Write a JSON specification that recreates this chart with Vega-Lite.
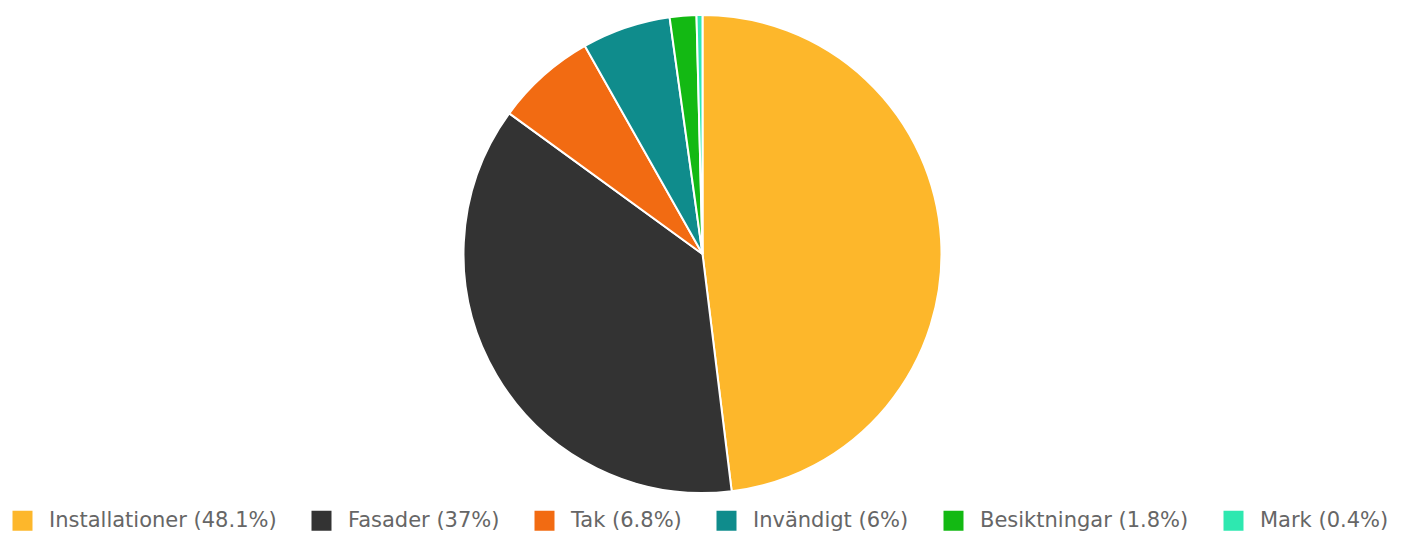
{
  "$schema": "https://vega.github.io/schema/vega-lite/v6.json",
  "width": 1411,
  "height": 534,
  "autosize": {"type": "fit", "contains": "padding"},
  "padding": {"top": 4, "bottom": 30, "left": 0, "right": 6},
  "background": "white",
  "view": {"stroke": null},
  "data": {
    "values": [
      {"kategori": "Installationer", "andel": 48.1, "etikett": "Installationer (48.1%)", "ordning": 1},
      {"kategori": "Fasader", "andel": 37, "etikett": "Fasader (37%)", "ordning": 2},
      {"kategori": "Tak", "andel": 6.8, "etikett": "Tak (6.8%)", "ordning": 3},
      {"kategori": "Invändigt", "andel": 6, "etikett": "Invändigt (6%)", "ordning": 4},
      {"kategori": "Besiktningar", "andel": 1.8, "etikett": "Besiktningar (1.8%)", "ordning": 5},
      {"kategori": "Mark", "andel": 0.4, "etikett": "Mark (0.4%)", "ordning": 6}
    ]
  },
  "mark": {"type": "arc", "outerRadius": 239, "stroke": "white", "strokeWidth": 2},
  "encoding": {
    "theta": {"field": "andel", "type": "quantitative", "stack": true},
    "order": {"field": "ordning", "type": "quantitative"},
    "color": {
      "field": "etikett",
      "type": "nominal",
      "sort": null,
      "scale": {
        "domain": ["Installationer (48.1%)", "Fasader (37%)", "Tak (6.8%)", "Invändigt (6%)", "Besiktningar (1.8%)", "Mark (0.4%)"],
        "range": ["#FDB72B", "#333333", "#F26B12", "#0F8C8C", "#13B913", "#2EE8B0"]
      },
      "legend": {
        "title": null,
        "orient": "none",
        "legendX": 12,
        "legendY": 506,
        "direction": "horizontal",
        "columns": 6,
        "symbolType": "square",
        "symbolSize": 400,
        "symbolStrokeWidth": 0,
        "labelFont": "DejaVu Sans",
        "labelFontSize": 21,
        "labelColor": "#666666",
        "labelLimit": 400,
        "columnPadding": 34,
        "labelOffset": 16
      }
    }
  }
}
